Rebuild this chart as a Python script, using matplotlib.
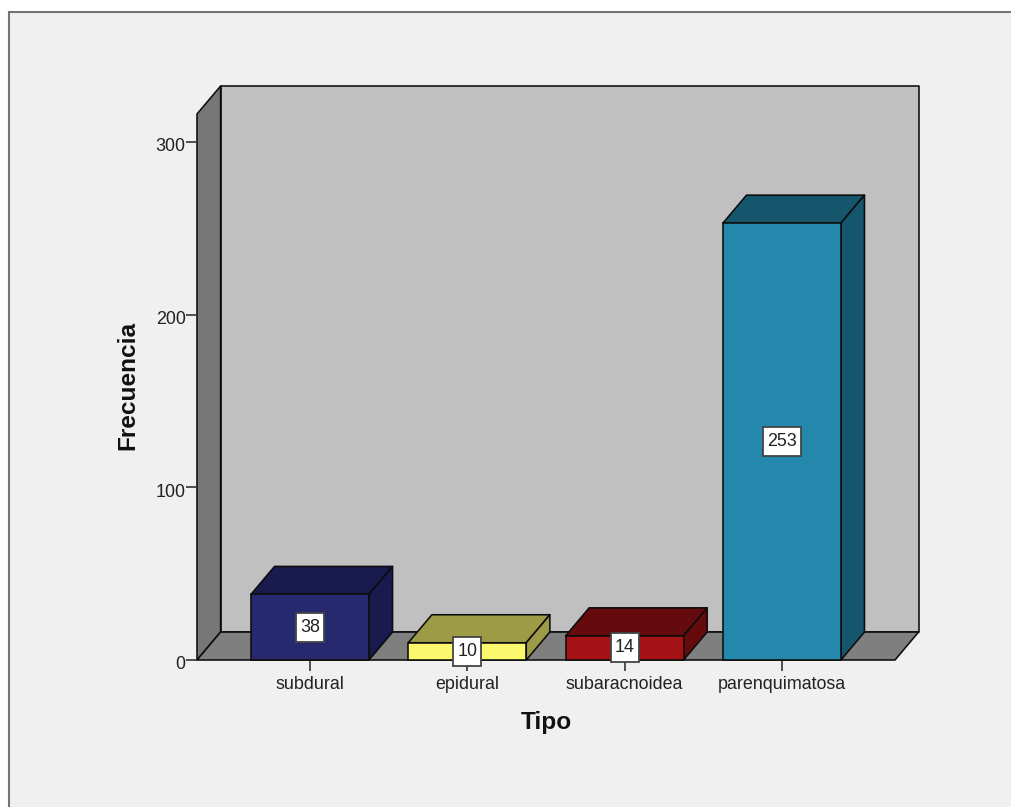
import matplotlib
matplotlib.use("Agg")
import matplotlib.pyplot as plt
from matplotlib.patches import Polygon, Rectangle
from matplotlib.path import Path
from matplotlib.transforms import ScaledTranslation

plt.rcParams["font.family"] = ["Liberation Sans", "DejaVu Sans"]

categories = ["subdural", "epidural", "subaracnoidea", "parenquimatosa"]
counts = [38, 10, 14, 253]
front_colors = ["#27296f", "#fbf86d", "#a51215", "#2388ac"]
shade_colors = ["#191a4d", "#9d9b46", "#650b0d", "#15566c"]
y_ticks = [0, 100, 200, 300]

W, H = 1011, 807
# depth of the 3D box, in data units
DX, DY = 0.15, 16.2
BAR_W = 0.75
Y_TOP = 316.2
EDGE = "#0c0c0c"

fig = plt.figure(figsize=(W / 100, H / 100), dpi=100, facecolor="white")
# grey panel behind the chart, running off the right and bottom edges
fig.add_artist(Rectangle((8.5 / W, -0.01), 1.02, 1 - 11.5 / H + 0.01, transform=fig.transFigure,
                         facecolor="#f0f0f0", edgecolor="#757575", lw=1.5, zorder=-1))

ax = fig.add_axes([197 / W, (H - 660) / H, 698 / W, 546 / H])
ax.patch.set_visible(False)
ax.set_xlim(-0.718, 3.719)
ax.set_ylim(0, Y_TOP)
for s in ax.spines.values():
    s.set_visible(False)


def poly(pts, color, z):
    ax.add_patch(Polygon(pts, closed=True, facecolor=color, edgecolor=EDGE, lw=1.15,
                         joinstyle="round", clip_on=False, zorder=z))


def label_box(x0, y0, width, height, mutation_size):
    # value label box: more padding above and below than at the sides
    padx, pady = 4, 6
    l, b, r, t = x0 - padx, y0 - pady, x0 + width + padx, y0 + height + pady
    return Path([(l, b), (r, b), (r, t), (l, t), (l, b)], closed=True)


x0, x1 = ax.get_xlim()
# left wall, floor and back wall
poly([(x0 + DX, DY), (x1 + DX, DY), (x1 + DX, Y_TOP + DY), (x0 + DX, Y_TOP + DY)], "#c0c0c0", 1)
poly([(x0, 0), (x0 + DX, DY), (x0 + DX, Y_TOP + DY), (x0, Y_TOP)], "#777777", 1.1)
poly([(x0, 0), (x0 + DX, DY), (x1 + DX, DY), (x1, 0)], "#7f7f7f", 1.2)

for i, (v, fc, sc) in enumerate(zip(counts, front_colors, shade_colors)):
    l, r = i - BAR_W / 2, i + BAR_W / 2
    poly([(l, v), (l + DX, v + DY), (r + DX, v + DY), (r, v)], sc, 3)
    poly([(r, 0), (r + DX, DY), (r + DX, v + DY), (r, v)], sc, 3)
    ax.bar(i, v, width=BAR_W, color=fc, edgecolor=EDGE, lw=1.15, zorder=3.1, clip_on=False)
    ax.text(i, v / 2, str(v), ha="center", va="center", fontsize=12.9, color="#222222", zorder=5,
            bbox=dict(boxstyle=label_box, facecolor="white", edgecolor="#444444", lw=1.3))

ax.set_xticks(range(len(categories)))
ax.set_xticklabels(categories)
ax.set_yticks(y_ticks)
ax.tick_params(axis="x", length=7.8, width=1.2, color="#333333", pad=3.5, labelsize=12.9,
               labelcolor="#222222")
ax.tick_params(axis="y", length=7.8, width=1.2, color="#333333", pad=0.3, labelsize=12.9,
               labelcolor="#222222")
# y tick labels sit a little below their ticks
for lab in ax.get_yticklabels():
    lab.set_transform(lab.get_transform() + ScaledTranslation(0, -2 / 72, fig.dpi_scale_trans))

ax.set_xlabel("Tipo", fontsize=17.6, fontweight="bold", color="#111111")
ax.set_ylabel("Frecuencia", fontsize=17.6, fontweight="bold", color="#111111")
ax.xaxis.set_label_coords(0.5, -63 / 546, transform=ax.transAxes)
ax.xaxis.label.set_va("center")
ax.yaxis.set_label_coords(-69 / 698, 0.503, transform=ax.transAxes)
ax.yaxis.label.set_va("center")

fig.savefig("out.png", dpi=100, facecolor="white")
